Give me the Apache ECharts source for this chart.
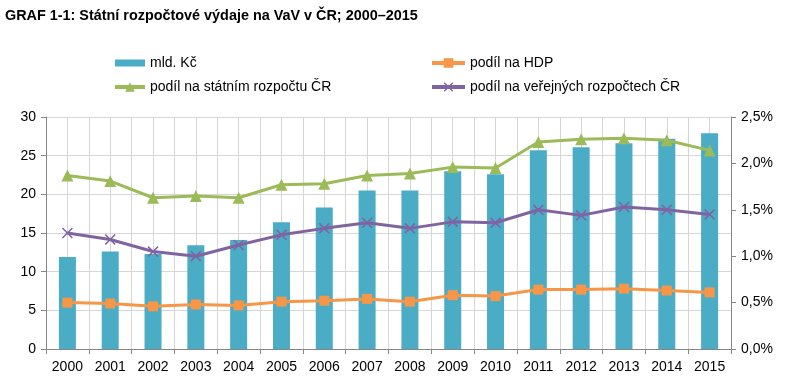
<!DOCTYPE html>
<html><head><meta charset="utf-8">
<script src="https://cdn.jsdelivr.net/npm/echarts@6/dist/echarts.min.js"></script>
<style>html,body{margin:0;padding:0;background:#fff}#c{width:788px;height:382px}</style>
</head><body><div id="c"></div>
<script>
const years = ['2000','2001','2002','2003','2004','2005','2006','2007','2008','2009','2010','2011','2012','2013','2014','2015'];
const mldKc = [11.9,12.6,12.3,13.4,14.1,16.4,18.3,20.5,20.5,23.0,22.6,25.7,26.1,26.6,27.2,27.9];
const podilHDP = [0.50,0.49,0.46,0.48,0.47,0.51,0.52,0.54,0.51,0.58,0.57,0.64,0.64,0.65,0.63,0.61];
const podilStatni = [1.87,1.81,1.63,1.65,1.63,1.77,1.78,1.87,1.89,1.96,1.95,2.23,2.26,2.27,2.25,2.14];
const podilVerejne = [1.25,1.18,1.05,1.00,1.12,1.23,1.30,1.36,1.30,1.37,1.36,1.50,1.44,1.53,1.50,1.45];
const leftTicks = {min:0, max:30, interval:5};
const rightTicks = {min:0, max:2.5, interval:0.5};

const C_BAR='#4BACC6', C_OR='#F79646', C_GR='#9BBB59', C_PU='#8064A2';
const FONT='Liberation Sans, Arial, sans-serif';
const crossPath='path://M0,1L1,0L5,4L9,0L10,1L6,5L10,9L9,10L5,6L1,10L0,9L4,5Z';
const barIcon='path://M0,0L0,12M0,2.5H30V9.5H0Z';

const chart = echarts.init(document.getElementById('c'));
chart.setOption({
  animation:false,
  title:{text:'GRAF 1-1: Státní rozpočtové výdaje na VaV v ČR; 2000–2015',left:0,top:4,
    textStyle:{fontFamily:FONT,fontSize:14.4,fontWeight:'bold',color:'#000'}},
  legend:[
    {orient:'vertical',left:108,top:51,itemWidth:30,itemHeight:12,itemGap:10,
     data:[{name:'mld. Kč',icon:barIcon},{name:'podíl na státním rozpočtu ČR',lineStyle:{width:4}}],
     textStyle:{fontFamily:FONT,fontSize:14,color:'#000'}},
    {orient:'vertical',left:425,top:51,itemWidth:33,itemHeight:12,itemGap:10,
     data:[{name:'podíl na HDP',lineStyle:{width:4}},{name:'podíl na veřejných rozpočtech ČR',lineStyle:{width:4}}],
     textStyle:{fontFamily:FONT,fontSize:14,color:'#000'}}
  ],
  grid:{left:46,right:57,top:117,height:232,containLabel:false},
  xAxis:[
    {type:'category',data:years,boundaryGap:true,
     axisLine:{lineStyle:{color:'#868686',width:1}},
     axisTick:{show:true,length:5,interval:0,lineStyle:{color:'#868686'}},
     axisLabel:{fontFamily:FONT,fontSize:14,color:'#000',margin:11,interval:0},
     splitLine:{show:false}},
    {type:'value',min:0,max:16,interval:0.5,position:'top',show:true,
     axisLine:{show:false},axisTick:{show:false},axisLabel:{show:false},
     splitLine:{show:true,lineStyle:{color:'#d6d6d6',width:1}}}
  ],
  yAxis:[
    {type:'value',min:leftTicks.min,max:leftTicks.max,interval:leftTicks.interval,
     axisLine:{show:true,lineStyle:{color:'#868686'}},
     axisTick:{show:true,length:5,lineStyle:{color:'#868686'}},
     axisLabel:{fontFamily:FONT,fontSize:14,color:'#000',margin:10},
     splitLine:{show:true,lineStyle:{color:'#d6d6d6'}}},
    {type:'value',min:rightTicks.min,max:rightTicks.max,interval:rightTicks.interval,position:'right',
     axisLine:{show:true,lineStyle:{color:'#868686'}},
     axisTick:{show:true,length:5,lineStyle:{color:'#868686'}},
     axisLabel:{fontFamily:FONT,fontSize:14,color:'#000',margin:10,
       formatter:v=>v.toFixed(1).replace('.',',')+'%'},
     splitLine:{show:false}}
  ],
  series:[
    {name:'mld. Kč',type:'bar',data:mldKc,barWidth:17,itemStyle:{color:C_BAR},yAxisIndex:0,xAxisIndex:0,z:2},
    {name:'podíl na HDP',type:'line',data:podilHDP,yAxisIndex:1,xAxisIndex:0,
     symbol:'rect',symbolSize:10,lineStyle:{color:C_OR,width:3},itemStyle:{color:C_OR},z:4},
    {name:'podíl na státním rozpočtu ČR',type:'line',data:podilStatni,yAxisIndex:1,xAxisIndex:0,
     symbol:'triangle',symbolSize:12,lineStyle:{color:C_GR,width:3},itemStyle:{color:C_GR},z:4},
    {name:'podíl na veřejných rozpočtech ČR',type:'line',data:podilVerejne,yAxisIndex:1,xAxisIndex:0,
     symbol:crossPath,symbolSize:11,lineStyle:{color:C_PU,width:3},itemStyle:{color:C_PU},z:4}
  ]
});
</script></body></html>
